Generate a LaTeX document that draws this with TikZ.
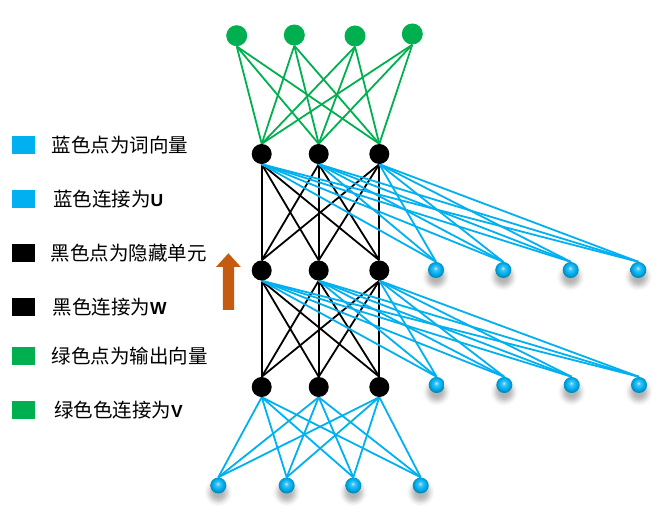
\documentclass[tikz,border=0pt]{standalone}
\usepackage{fontspec}
\setmainfont{Liberation Sans}
\newfontfamily\cjk{Noto Sans CJK SC}
\usetikzlibrary{shadows.blur}
\definecolor{ublue}{RGB}{0,176,240}
\definecolor{vgreen}{RGB}{0,176,80}
\definecolor{arrorange}{RGB}{197,90,17}
\pgfdeclareradialshading{cyanball}{\pgfpoint{-2bp}{6bp}}{%
  color(0bp)=(ublue!20!white); color(6bp)=(ublue!75!white);
  color(16bp)=(ublue); color(26bp)=(ublue!75!black); color(50bp)=(ublue!75!black)}
\pgfdeclarelayer{bg}
\pgfsetlayers{bg,main}
\begin{document}
\begin{tikzpicture}[x=1pt,y=-1pt,
  hid/.style={circle,fill=black,minimum size=20pt,inner sep=0pt},
  outn/.style={circle,fill=vgreen,minimum size=21pt,inner sep=0pt},
  inp/.style={circle,shading=cyanball,minimum size=16pt,inner sep=0pt,
    blur shadow={shadow xshift=0pt,shadow yshift=-6pt,shadow blur radius=4pt,shadow opacity=30,shadow scale=1.15}},
  ulink/.style={ublue,line width=1.8pt},
  wlink/.style={black,line width=1.8pt},
  vlink/.style={vgreen,line width=1.8pt},
  legbox/.style={minimum width=23pt,minimum height=18pt,inner sep=0pt},
  legtext/.style={anchor=west,inner sep=0pt,font=\cjk\fontsize{19.5}{19.5}\selectfont}]
\useasboundingbox (0,0) rectangle (661,518);

% output (green) nodes
\node[outn] (g1) at (236.7,35.7) {};
\node[outn] (g2) at (294.3,35) {};
\node[outn] (g3) at (355,36) {};
\node[outn] (g4) at (412.3,34) {};

% hidden nodes
\foreach \r/\y in {1/154,2/270.5,3/387}{
  \node[hid] (h\r1) at (261.7,\y) {};
  \node[hid] (h\r2) at (318.7,\y) {};
  \node[hid] (h\r3) at (379.3,\y) {};
}

% input (blue) nodes
\node[inp] (xa1) at (436,270) {};
\node[inp] (xa2) at (503.3,270) {};
\node[inp] (xa3) at (570.7,270) {};
\node[inp] (xa4) at (638.3,270) {};
\node[inp] (xb1) at (436.7,385) {};
\node[inp] (xb2) at (504.3,385) {};
\node[inp] (xb3) at (571.7,385) {};
\node[inp] (xb4) at (639,385) {};
\node[inp] (xc1) at (218.3,485.5) {};
\node[inp] (xc2) at (286.7,485.5) {};
\node[inp] (xc3) at (353.3,485.5) {};
\node[inp] (xc4) at (420.7,485.5) {};

\begin{pgfonlayer}{bg}
\foreach \g in {1,...,4}{\foreach \h in {1,2,3}{
  \draw[vlink] (g\g.south) -- (h1\h.north);}}
\foreach \r/\s in {1/2,2/3}{\foreach \a in {1,2,3}{\foreach \b in {1,2,3}{
  \draw[wlink] (h\r\a.south) -- (h\s\b.north);}}}
\foreach \h in {1,2,3}{\foreach \i in {1,...,4}{
  \draw[ulink] (h1\h.south) -- (xa\i.north);
  \draw[ulink] (h2\h.south) -- (xb\i.north);
  \draw[ulink] (h3\h.south) -- (xc\i.north);}}
\end{pgfonlayer}

% legend
\node[legbox,fill=ublue] (k1) at (23.5,145.5) {};
\node[legbox,fill=ublue] (k2) at (23.5,199) {};
\node[legbox,fill=black] (k3) at (23.5,253.5) {};
\node[legbox,fill=black] (k4) at (23.5,307) {};
\node[legbox,fill=vgreen] (k5) at (23.5,356.5) {};
\node[legbox,fill=vgreen] (k6) at (23.5,410) {};
\node[legtext] (t1) at (51.5,145.5) {蓝色点为词向量};
\node[legtext] (t2) at (53,199) {蓝色连接为{\rmfamily\bfseries\fontsize{17.5}{17.5}\selectfont U}};
\node[legtext] (t3) at (50.5,253.5) {黑色点为隐藏单元};
\node[legtext] (t4) at (52.5,307) {黑色连接为{\rmfamily\bfseries\fontsize{17.5}{17.5}\selectfont W}};
\node[legtext] (t5) at (51.5,356.5) {绿色点为输出向量};
\node[legtext] (t6) at (54,410) {绿色色连接为{\rmfamily\bfseries\fontsize{17.5}{17.5}\selectfont V}};

% orange arrow
\fill[arrorange] (222.8,310) -- (222.8,267) -- (216,267) -- (228.4,253.3)
  -- (240.8,267) -- (234.2,267) -- (234.2,310) -- cycle;
\end{tikzpicture}
\end{document}
